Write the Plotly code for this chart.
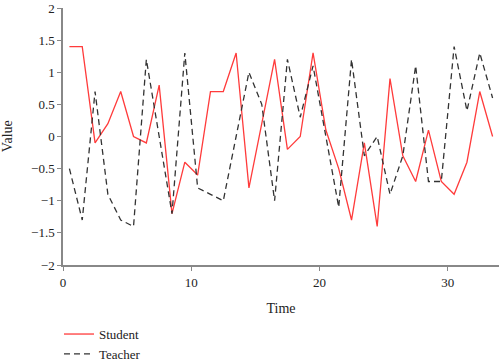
import plotly.graph_objects as go

time = [i + 0.5 for i in range(34)]
student = [1.4, 1.4, -0.1, 0.2, 0.7, 0.0, -0.1, 0.8, -1.2, -0.4,
           -0.6, 0.7, 0.7, 1.3, -0.8, 0.2, 1.2, -0.2, 0.0, 1.3,
           0.1, -0.5, -1.3, -0.1, -1.4, 0.9, -0.3, -0.7, 0.1, -0.7,
           -0.9, -0.4, 0.7, 0.0]
teacher = [-0.5, -1.3, 0.7, -0.9, -1.3, -1.4, 1.2, 0.0, -1.2, 1.3,
           -0.8, -0.9, -1.0, 0.0, 1.0, 0.5, -1.0, 1.2, 0.3, 1.1,
           0.0, -1.1, 1.2, -0.3, 0.0, -0.9, -0.3, 1.1, -0.7, -0.7,
           1.4, 0.4, 1.3, 0.6]
xticks = [0, 10, 20, 30]
yticks = [-2, -1.5, -1, -0.5, 0, 0.5, 1, 1.5, 2]
yticklabels = ["\u22122", "\u22121.5", "\u22121", "\u22120.5", "0", "0.5", "1", "1.5", "2"]

font = "Liberation Serif"

fig = go.Figure()
fig.add_trace(go.Scatter(x=time, y=student, mode="lines", name="Student",
                         line=dict(color="#ff3b3b", width=1.3)))
fig.add_trace(go.Scatter(x=time, y=teacher, mode="lines", name="Teacher",
                         line=dict(color="#333333", width=1.3, dash="6px,4px")))

fig.update_layout(
    width=500, height=363,
    margin=dict(l=63, r=1, t=8, b=98, autoexpand=False),
    paper_bgcolor="white", plot_bgcolor="white",
    font=dict(family=font, size=13, color="#222222"),
    showlegend=True,
    legend=dict(orientation="v", xref="container", yref="container",
                x=0.118, xanchor="left", y=0.121, yanchor="top",
                font=dict(size=13, family=font, color="#222222"),
                itemwidth=30, tracegroupgap=0, bgcolor="rgba(0,0,0,0)"),
    xaxis=dict(range=[0, 34], tickvals=xticks, showgrid=False, zeroline=False,
               showline=True, linecolor="#888888", linewidth=2,
               ticks="outside", ticklen=4, tickcolor="#888888",
               title=dict(text="Time", font=dict(size=14, family=font))),
    yaxis=dict(range=[-2, 2], tickvals=yticks, ticktext=yticklabels, showgrid=False,
               zeroline=False, showline=True, linecolor="#888888", linewidth=1.5,
               ticks="outside", ticklen=4, tickcolor="#888888"),
    annotations=[dict(text="Value", textangle=-90, xref="paper", yref="paper",
                      x=-0.127, y=0.5, xanchor="center", yanchor="middle",
                      showarrow=False, font=dict(size=14, family=font, color="#222222"))],
)

fig.write_html("out.html", config={"displayModeBar": False},
               post_script="document.body.style.margin='0';")
